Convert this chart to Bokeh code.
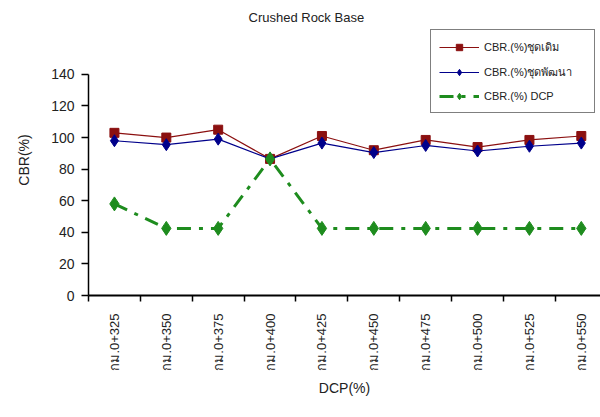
import math
from bokeh.plotting import figure
from bokeh.models import Range1d, FixedTicker, Legend, LegendItem
from bokeh.embed import file_html
from bokeh.resources import INLINE

categories = ["กม.0+325", "กม.0+350", "กม.0+375", "กม.0+400", "กม.0+425",
              "กม.0+450", "กม.0+475", "กม.0+500", "กม.0+525", "กม.0+550"]
cbr_original = [103, 100, 105, 86.5, 101, 92, 98.5, 94, 98.5, 101]
cbr_developed = [98, 95.5, 99, 86.5, 96.5, 90.5, 95, 91.5, 94.5, 96.5]
cbr_dcp = [58, 42.5, 42.5, 86.5, 42.5, 42.5, 42.5, 42.5, 42.5, 42.5]
series_names = ["CBR.(%)ชุดเดิม", "CBR.(%)ชุดพัฒนา", "CBR.(%) DCP"]
y_ticks = [0, 20, 40, 60, 80, 100, 120, 140]

FONT = "Liberation Sans, Arial, Noto Sans"
n = len(categories)
xs = [i + 0.5 for i in range(n)]

p = figure(width=600, height=417, output_backend="svg", toolbar_location=None,
           x_range=Range1d(0, 9.87), y_range=Range1d(0, 171.6),
           min_border_left=88, min_border_right=0, min_border_top=24, min_border_bottom=122)
p.outline_line_color = None
p.xgrid.visible = False
p.ygrid.visible = False
p.background_fill_color = "white"

p.title.text = "Crushed Rock Base"
p.title.text_font = FONT
p.title.text_font_size = "13px"
p.title.text_font_style = "normal"
p.title.text_color = "#222222"
p.title.align = "left"
p.title.offset = 160
p.title.standoff = 0

# x axis
p.xaxis.ticker = FixedTicker(ticks=xs, minor_ticks=list(range(n + 1)))
p.xaxis.major_label_overrides = {x: c for x, c in zip(xs, categories)}
p.xaxis.major_label_orientation = math.pi / 2
p.xaxis.major_tick_out = 0
p.xaxis.major_tick_in = 0
p.xaxis.minor_tick_out = 6
p.xaxis.minor_tick_in = 0
p.xaxis.minor_tick_line_color = "black"
p.xaxis.minor_tick_line_width = 1.5
p.xaxis.major_label_standoff = 12
p.xaxis.major_label_text_font = FONT
p.xaxis.major_label_text_font_size = "13px"
p.xaxis.major_label_text_color = "#222222"
p.xaxis.axis_line_width = 2
p.xaxis.axis_label = "DCP(%)"
p.xaxis.axis_label_text_font = FONT
p.xaxis.axis_label_text_font_size = "14px"
p.xaxis.axis_label_text_font_style = "normal"
p.xaxis.axis_label_text_color = "#222222"
p.xaxis.axis_label_standoff = 6

# y axis
p.yaxis.ticker = FixedTicker(ticks=y_ticks)
p.yaxis.bounds = (0, 140)
p.yaxis.minor_tick_line_color = None
p.yaxis.major_tick_out = 7
p.yaxis.major_tick_in = 0
p.yaxis.major_tick_line_width = 1.5
p.yaxis.axis_line_width = 1.5
p.yaxis.major_label_standoff = 7
p.yaxis.major_label_text_font = FONT
p.yaxis.major_label_text_font_size = "14px"
p.yaxis.major_label_text_color = "#222222"
p.yaxis.axis_label = "CBR(%)"
p.yaxis.axis_label_text_font = FONT
p.yaxis.axis_label_text_font_size = "14px"
p.yaxis.axis_label_text_font_style = "normal"
p.yaxis.axis_label_text_color = "#222222"
p.yaxis.axis_label_standoff = 16

red = "#8b1010"
blue = "#00008b"
green = "#1e8c1e"

l1 = p.line(xs, cbr_original, line_color=red, line_width=1.2)
m1 = p.scatter(xs, cbr_original, marker="square", size=9, fill_color=red, line_color=red)
l2 = p.line(xs, cbr_developed, line_color=blue, line_width=1.2)
m2 = p.scatter(xs, cbr_developed, marker="diamond", size=12, fill_color=blue, line_color=blue)
l3 = p.line(xs, cbr_dcp, line_color=green, line_width=3, line_dash="14 8 4 8")
m3 = p.scatter(xs, cbr_dcp, marker="diamond", size=14, fill_color=green, line_color=green)

legend = Legend(items=[
    LegendItem(label=series_names[0], renderers=[l1, m1]),
    LegendItem(label=series_names[1], renderers=[l2, m2]),
    LegendItem(label=series_names[2], renderers=[l3, m3]),
], location="top_right")
legend.label_text_font = FONT
legend.label_text_font_size = "11px"
legend.label_text_color = "#222222"
legend.label_height = 16
legend.label_width = 102
legend.border_line_color = "black"
legend.border_line_width = 1.5
legend.glyph_width = 40
legend.glyph_height = 16
legend.spacing = 7
legend.padding = 8
legend.margin = 5
legend.label_standoff = 5
legend.background_fill_color = "white"
p.add_layout(legend, "center")

open("out.html", "w").write(file_html(p, INLINE))
